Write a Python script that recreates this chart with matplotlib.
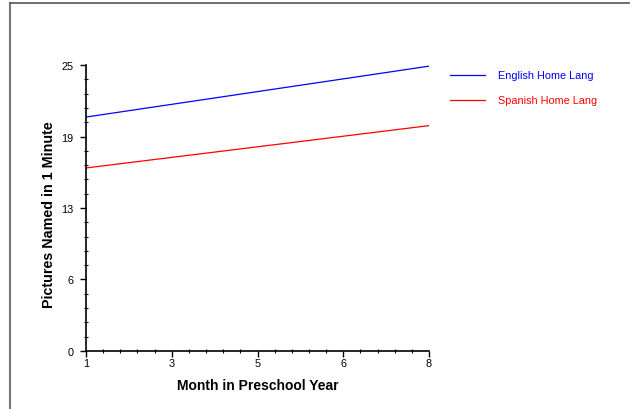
import numpy as np
import matplotlib.pyplot as plt
from matplotlib.lines import Line2D
from matplotlib.ticker import AutoMinorLocator

# Datos
meses = [1, 8]
english = [20.45, 24.9]
spanish = [16.0, 19.7]

y_ticks = np.linspace(0, 25, 5)
y_labels = ['0', '6', '13', '19', '25']
x_ticks = np.linspace(1, 8, 5)
x_labels = ['1', '3', '5', '6', '8']

plt.rcParams['font.family'] = ['Liberation Sans', 'DejaVu Sans']

fig = plt.figure(figsize=(6.3, 4.1), dpi=100)
ax = fig.add_axes([0.1365, 0.1415, 0.5445, 0.6975])

ax.plot(meses, english, color='#0000ff', lw=0.9)
ax.plot(meses, spanish, color='#ff0000', lw=0.9)

ax.set_xlim(1, 8)
ax.set_ylim(0, 25)
ax.set_yticks(y_ticks)
ax.set_yticklabels(y_labels)
ax.set_xticks(x_ticks)
ax.set_xticklabels(x_labels)
ax.xaxis.set_minor_locator(AutoMinorLocator(5))
ax.yaxis.set_minor_locator(AutoMinorLocator(5))
ax.tick_params(which='major', direction='out', length=4, width=1, labelsize=7.8)
ax.tick_params(axis='y', which='major', pad=5)
ax.tick_params(axis='x', which='major', pad=1)
ax.tick_params(which='minor', direction='inout', length=3, width=0.8)

for s in ['top', 'right']:
    ax.spines[s].set_visible(False)
for s in ['left', 'bottom']:
    ax.spines[s].set_linewidth(1.2)

ax.set_xlabel('Month in Preschool Year', fontsize=10, fontweight='bold', labelpad=7)
ax.set_ylabel('Pictures Named in 1 Minute', fontsize=10.3, fontweight='bold')
ax.yaxis.set_label_coords(-0.088, 0.48)

# Leyenda
for y, color, texto in [(76, '#0000ff', 'English Home Lang'), (101, '#ff0000', 'Spanish Home Lang')]:
    yf = 1 - y / 410
    fig.add_artist(Line2D([450 / 630, 485 / 630], [yf, yf], color=color, lw=0.9))
    fig.text(498 / 630, yf, texto, color=color, fontsize=7.8, va='center')

# Marco
fig.add_artist(Line2D([9.5 / 630, 9.5 / 630], [0, 1 - 3.5 / 410], color='#777777', lw=1.5))
fig.add_artist(Line2D([9.5 / 630, 1], [1 - 3.5 / 410, 1 - 3.5 / 410], color='#555555', lw=1.2))

fig.savefig('out.png', dpi=100)
